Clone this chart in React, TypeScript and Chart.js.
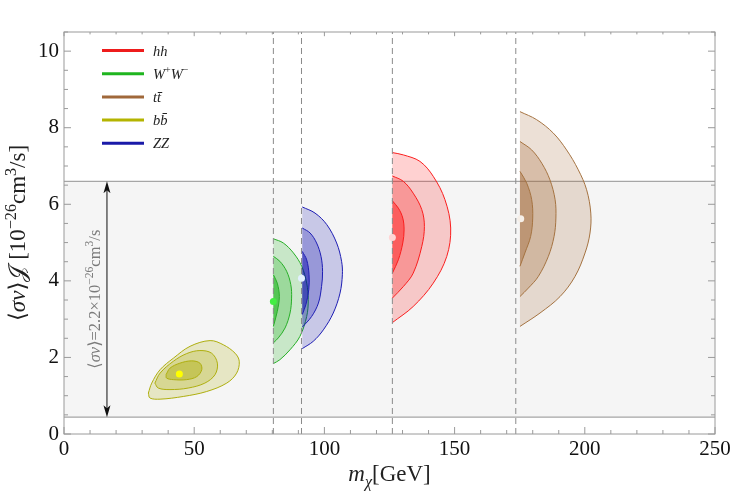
import { useEffect, useRef } from "react";
import { Chart, registerables } from "chart.js";

Chart.register(...registerables);

type Pt = [number, number];
type Seg = { t: string; italic?: boolean; sup?: boolean; sub?: boolean };

// axis ranges and ticks
const X_MIN = 0;
const X_MAX = 250;
const Y_MIN = 0;
const Y_MAX = 10.5;
const X_TICKS = [0, 50, 100, 150, 200, 250];
const Y_TICKS = [0, 2, 4, 6, 8, 10];
const X_MINOR = 10;
const Y_MINOR = 0.5;

// thermal cross-section band and the arrow annotation
const BAND_LOW = 0.44;
const BAND_HIGH = 6.6;
const ARROW_X = 16.5;
const ANNOT_X = 11.5;

// kinematic thresholds (W, Z, h, t masses)
const THRESHOLDS = [80.4, 91.2, 126.1, 173.5];

// hh contours (68/95/99%)
const hhOuter: Pt[] = [[126.1, 7.35], [130.3, 7.29], [136.7, 7.12], [141.8, 6.73], [146.3, 6.12], [148.5, 5.38], [147.0, 4.64], [141.8, 3.94], [134.1, 3.33], [126.1, 2.91]];
const hhMid: Pt[] = [[126.1, 6.74], [130.3, 6.6], [134.1, 6.29], [137.4, 5.86], [138.4, 5.42], [137.4, 4.9], [134.1, 4.2], [130.3, 3.85], [126.1, 3.55]];
const hhInner: Pt[] = [[126.1, 6.09], [128.4, 5.9], [130.1, 5.64], [130.6, 5.33], [130.1, 4.99], [128.4, 4.55], [126.1, 4.2]];
const hhBest: Pt[] = [[126.1, 5.13]];

// W+W- contours
const wwOuter: Pt[] = [[80.4, 5.1], [84.2, 4.99], [88.1, 4.73], [91.3, 4.38], [93.2, 3.94], [93.8, 3.51], [93.2, 3.07], [90.6, 2.55], [86.8, 2.2], [82.9, 1.94], [80.4, 1.84]];
const wwMid: Pt[] = [[80.4, 4.64], [82.9, 4.51], [85.5, 4.25], [87.1, 3.9], [87.4, 3.55], [86.8, 3.16], [84.9, 2.77], [82.3, 2.51], [80.4, 2.38]];
const wwInner: Pt[] = [[80.4, 4.16], [81.9, 3.94], [82.7, 3.59], [81.9, 3.2], [80.4, 2.81]];
const wwBest: Pt[] = [[80.4, 3.46]];

// ZZ contours
const zzOuter: Pt[] = [[91.5, 5.93], [96.4, 5.77], [100.9, 5.47], [104.7, 4.99], [106.6, 4.51], [106.9, 4.16], [106.0, 3.68], [103.4, 3.16], [99.6, 2.72], [95.7, 2.42], [91.5, 2.23]];
const zzMid: Pt[] = [[91.5, 5.38], [94.5, 5.25], [97.0, 4.99], [98.7, 4.64], [99.3, 4.25], [98.9, 3.85], [97.7, 3.42], [95.1, 3.07], [91.5, 2.79]];
const zzInner: Pt[] = [[91.5, 4.77], [93.2, 4.55], [94.1, 4.16], [94.0, 3.77], [92.9, 3.38], [91.5, 3.12]];
const zzBest: Pt[] = [[91.2, 4.07]];

// t tbar contours
const ttOuter: Pt[] = [[175.1, 8.42], [181.5, 8.21], [187.9, 7.86], [193.0, 7.42], [197.5, 6.9], [200.7, 6.38], [202.3, 5.77], [202.0, 5.25], [200.1, 4.73], [196.2, 4.11], [190.5, 3.59], [182.8, 3.16], [175.1, 2.81]];
const ttMid: Pt[] = [[175.1, 7.64], [179.6, 7.42], [183.5, 7.07], [186.6, 6.64], [188.6, 6.12], [188.9, 5.64], [188.2, 5.16], [186.0, 4.64], [182.1, 4.11], [178.3, 3.81], [175.1, 3.59]];
const ttInner: Pt[] = [[175.1, 6.86], [177.7, 6.55], [179.6, 6.12], [180.0, 5.64], [179.2, 5.16], [177.0, 4.73], [175.1, 4.38]];
const ttBest: Pt[] = [[175.4, 5.62]];

// b bbar contours (closed)
const bbOuter: Pt[] = [[32.4, 1.07], [33.7, 1.33], [36.9, 1.68], [42.0, 1.98], [48.4, 2.29], [56.1, 2.44], [61.2, 2.33], [65.7, 2.11], [67.3, 1.9], [66.3, 1.59], [62.5, 1.33], [54.8, 1.11], [45.8, 0.98], [36.9, 0.91], [33.0, 0.94], [32.4, 1.07]];
const bbMid: Pt[] = [[34.9, 1.33], [36.9, 1.59], [42.0, 1.9], [47.1, 2.1], [52.2, 2.18], [56.7, 2.11], [58.9, 1.85], [58.0, 1.55], [54.1, 1.33], [47.7, 1.2], [40.7, 1.16], [36.2, 1.2], [34.9, 1.33]];
const bbInner: Pt[] = [[39.2, 1.55], [40.7, 1.72], [44.5, 1.85], [49.0, 1.91], [52.2, 1.85], [52.9, 1.68], [51.0, 1.5], [47.1, 1.42], [42.0, 1.42], [39.4, 1.46], [39.2, 1.55]];
const bbBest: Pt[] = [[44.3, 1.57]];

const LEGEND_LABELS: Seg[][] = [
  [{ t: "hh", italic: true }],
  [{ t: "W", italic: true }, { t: "+", sup: true }, { t: "W", italic: true }, { t: "\u2212", sup: true }],
  [{ t: "tt\u0304", italic: true }],
  [{ t: "bb\u0304", italic: true }],
  [{ t: "ZZ", italic: true }],
];
const LEGEND_COLORS = ["#ee1c1c", "#1fb51f", "#a0683a", "#b4b400", "#1a1aa8"];

const FONT = '"Liberation Serif", "DejaVu Serif", serif';

const xy = (pts: Pt[]) => pts.map(([x, y]) => ({ x, y }));

function contour(pts: Pt[], stroke: string, fill: string, order: number) {
  return {
    data: xy(pts),
    showLine: true,
    borderColor: stroke,
    borderWidth: 1,
    backgroundColor: fill,
    fill: "shape",
    tension: 0.35,
    pointRadius: 0,
    order,
  };
}

function best(pts: Pt[], color: string) {
  return {
    data: xy(pts),
    showLine: false,
    pointRadius: 3.5,
    pointBackgroundColor: color,
    pointBorderWidth: 0,
    order: 0,
  };
}

function drawRich(
  ctx: CanvasRenderingContext2D,
  segs: Seg[],
  x: number,
  y: number,
  size: number,
  color: string,
  align: "left" | "center",
) {
  const fontFor = (s: Seg) =>
    `${s.italic ? "italic " : ""}${s.sup || s.sub ? size * 0.7 : size}px ${FONT}`;
  let total = 0;
  const widths = segs.map((s) => {
    ctx.font = fontFor(s);
    const w = ctx.measureText(s.t).width;
    total += w;
    return w;
  });
  let cx = align === "center" ? x - total / 2 : x;
  ctx.fillStyle = color;
  ctx.textAlign = "left";
  ctx.textBaseline = "alphabetic";
  segs.forEach((s, i) => {
    ctx.font = fontFor(s);
    const dy = s.sup ? -size * 0.4 : s.sub ? size * 0.25 : 0;
    ctx.fillText(s.t, cx, y + dy);
    cx += widths[i];
  });
}

const decorPlugin = {
  id: "decor",
  beforeDatasetsDraw(chart: any) {
    const { ctx, chartArea: a, scales } = chart;
    const yHi = scales.y.getPixelForValue(BAND_HIGH);
    const yLo = scales.y.getPixelForValue(BAND_LOW);
    ctx.save();
    ctx.fillStyle = "#f5f5f5";
    ctx.fillRect(a.left, yHi, a.right - a.left, yLo - yHi);
    ctx.strokeStyle = "#a6a6a6";
    ctx.lineWidth = 1.2;
    ctx.beginPath();
    ctx.moveTo(a.left, yHi);
    ctx.lineTo(a.right, yHi);
    ctx.moveTo(a.left, yLo);
    ctx.lineTo(a.right, yLo);
    ctx.stroke();
    ctx.restore();
  },
  afterDatasetsDraw(chart: any) {
    const { ctx, chartArea: a, scales } = chart;
    const xs = scales.x;
    const ys = scales.y;
    ctx.save();

    // frame
    ctx.strokeStyle = "#9a9a9a";
    ctx.lineWidth = 1;
    ctx.strokeRect(a.left, a.top, a.right - a.left, a.bottom - a.top);

    // inward ticks on all four sides
    ctx.beginPath();
    for (let v = X_MIN; v <= X_MAX + 1e-6; v += X_MINOR) {
      const px = xs.getPixelForValue(v);
      const len = X_TICKS.includes(v) ? 7 : 4;
      ctx.moveTo(px, a.bottom);
      ctx.lineTo(px, a.bottom - len);
      ctx.moveTo(px, a.top);
      ctx.lineTo(px, a.top + len * 0.6);
    }
    for (let v = Y_MIN; v <= Y_MAX + 1e-6; v += Y_MINOR) {
      const py = ys.getPixelForValue(v);
      const len = Y_TICKS.includes(v) ? 7 : 4;
      ctx.moveTo(a.left, py);
      ctx.lineTo(a.left + len, py);
      ctx.moveTo(a.right, py);
      ctx.lineTo(a.right - len, py);
    }
    ctx.stroke();

    // double arrow across the band
    const ax = xs.getPixelForValue(ARROW_X);
    const aTop = ys.getPixelForValue(BAND_HIGH);
    const aBot = ys.getPixelForValue(BAND_LOW);
    ctx.strokeStyle = "#111";
    ctx.fillStyle = "#111";
    ctx.lineWidth = 1;
    ctx.beginPath();
    ctx.moveTo(ax, aTop + 8);
    ctx.lineTo(ax, aBot - 8);
    ctx.stroke();
    ctx.beginPath();
    ctx.moveTo(ax, aTop);
    ctx.lineTo(ax - 3.5, aTop + 12);
    ctx.lineTo(ax, aTop + 9);
    ctx.lineTo(ax + 3.5, aTop + 12);
    ctx.closePath();
    ctx.moveTo(ax, aBot);
    ctx.lineTo(ax - 3.5, aBot - 12);
    ctx.lineTo(ax, aBot - 9);
    ctx.lineTo(ax + 3.5, aBot - 12);
    ctx.closePath();
    ctx.fill();

    // rotated annotation
    const tx = xs.getPixelForValue(ANNOT_X);
    const ty = ys.getPixelForValue((BAND_LOW + BAND_HIGH) / 2);
    ctx.save();
    ctx.translate(tx, ty);
    ctx.rotate(-Math.PI / 2);
    drawRich(
      ctx,
      [
        { t: "\u27E8" },
        { t: "\u03C3v", italic: true },
        { t: "\u27E9=2.2\u00D710" },
        { t: "\u221226", sup: true },
        { t: "cm" },
        { t: "3", sup: true },
        { t: "/s" },
      ],
      0,
      6,
      16.5,
      "#7a7a7a",
      "center",
    );
    ctx.restore();

    // legend
    LEGEND_LABELS.forEach((segs, i) => {
      const ly = a.top + 18.5 + i * 23.2;
      ctx.strokeStyle = LEGEND_COLORS[i];
      ctx.lineWidth = 3;
      ctx.beginPath();
      ctx.moveTo(a.left + 38, ly);
      ctx.lineTo(a.left + 80, ly);
      ctx.stroke();
      drawRich(ctx, segs, a.left + 89, ly + 5, 14.5, "#222", "left");
    });

    ctx.restore();
  },
  afterDraw(chart: any) {
    const { ctx, chartArea: a } = chart;
    ctx.save();
    // x title
    drawRich(
      ctx,
      [{ t: "m", italic: true }, { t: "\u03C7", italic: true, sub: true }, { t: "[GeV]" }],
      (a.left + a.right) / 2,
      a.bottom + 47,
      23,
      "#222",
      "center",
    );
    // y title
    ctx.translate(17, (a.top + a.bottom) / 2);
    ctx.rotate(-Math.PI / 2);
    drawRich(
      ctx,
      [
        { t: "\u27E8" },
        { t: "\u03C3v", italic: true },
        { t: "\u27E9" },
        { t: "\uD835\uDCA5" },
        { t: " [10" },
        { t: "\u221226", sup: true },
        { t: "cm" },
        { t: "3", sup: true },
        { t: "/s]" },
      ],
      0,
      8,
      23,
      "#222",
      "center",
    );
    ctx.restore();
  },
};

export default function App() {
  const canvasRef = useRef<HTMLCanvasElement | null>(null);

  useEffect(() => {
    if (!canvasRef.current) return;
    document.body.style.margin = "0";

    const red = "rgb(250,30,30)";
    const green = "rgb(40,175,40)";
    const blue = "rgb(30,30,180)";
    const brown = "rgb(165,115,65)";
    const olive = "rgb(175,175,15)";

    const datasets: any[] = [
      contour(hhOuter, red, "rgba(255,0,0,0.18)", 30),
      contour(hhMid, red, "rgba(255,0,0,0.24)", 20),
      contour(hhInner, red, "rgba(255,0,0,0.38)", 10),
      contour(wwOuter, green, "rgba(0,170,0,0.18)", 30),
      contour(wwMid, green, "rgba(0,170,0,0.22)", 20),
      contour(wwInner, green, "rgba(0,170,0,0.45)", 10),
      contour(zzOuter, blue, "rgba(0,0,170,0.18)", 29),
      contour(zzMid, blue, "rgba(0,0,170,0.24)", 19),
      contour(zzInner, blue, "rgba(0,0,170,0.45)", 9),
      contour(ttOuter, brown, "rgba(160,100,50,0.2)", 30),
      contour(ttMid, brown, "rgba(160,100,50,0.28)", 20),
      contour(ttInner, brown, "rgba(160,100,50,0.4)", 10),
      contour(bbOuter, olive, "rgba(170,170,0,0.2)", 30),
      contour(bbMid, olive, "rgba(170,170,0,0.25)", 20),
      contour(bbInner, olive, "rgba(170,170,0,0.4)", 10),
      ...THRESHOLDS.map((m) => ({
        data: [
          { x: m, y: Y_MIN },
          { x: m, y: Y_MAX },
        ],
        showLine: true,
        borderColor: "#8a8a8a",
        borderWidth: 1,
        borderDash: [6, 4],
        pointRadius: 0,
        fill: false,
        order: 5,
      })),
      best(hhBest, "#ffd6d6"),
      best(wwBest, "#44ee44"),
      best(zzBest, "#e2f0ff"),
      best(ttBest, "#f6efe8"),
      best(bbBest, "#ffff00"),
    ];

    const tickFont = { family: FONT, size: 21 };

    const chart = new Chart(canvasRef.current, {
      type: "scatter",
      data: { datasets },
      plugins: [decorPlugin],
      options: {
        animation: false,
        responsive: false,
        events: [],
        layout: { padding: { top: 32, right: 32, left: 0, bottom: 0 } },
        plugins: { legend: { display: false }, tooltip: { enabled: false } },
        scales: {
          x: {
            type: "linear",
            min: X_MIN,
            max: X_MAX,
            grid: { display: false, drawTicks: false },
            border: { display: false },
            afterFit: (s: any) => {
              s.height = 63;
            },
            afterBuildTicks: (s: any) => {
              s.ticks = X_TICKS.map((v) => ({ value: v }));
            },
            ticks: { color: "#111", font: tickFont, padding: 3, maxRotation: 0 },
          },
          y: {
            type: "linear",
            min: Y_MIN,
            max: Y_MAX,
            grid: { display: false, drawTicks: false },
            border: { display: false },
            afterFit: (s: any) => {
              s.width = 64;
            },
            afterBuildTicks: (s: any) => {
              s.ticks = Y_TICKS.map((v) => ({ value: v }));
            },
            ticks: { color: "#111", font: tickFont, padding: 5 },
          },
        },
      },
    });

    return () => chart.destroy();
  }, []);

  return (
    <div style={{ position: "absolute", left: 0, top: 0, width: 747, height: 497 }}>
      <canvas ref={canvasRef} width={747} height={497} style={{ width: 747, height: 497 }} />
    </div>
  );
}
